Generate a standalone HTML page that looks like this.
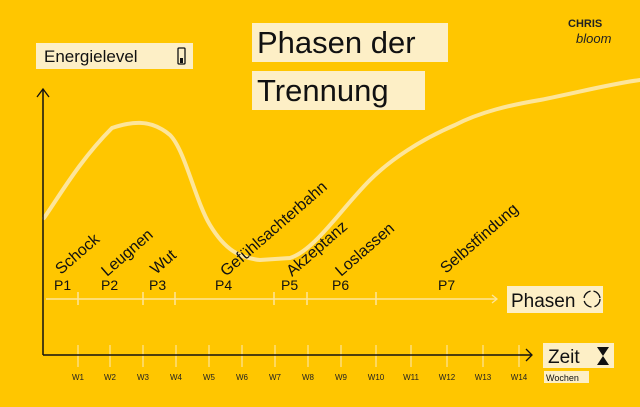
<!DOCTYPE html>
<html><head><meta charset="utf-8"><style>
html,body{margin:0;padding:0;background:#FFC600;}
svg{display:block;}
text{font-family:"Liberation Sans",sans-serif;}
</style></head><body>
<svg width="640" height="407" viewBox="0 0 640 407" xmlns="http://www.w3.org/2000/svg">
<rect width="640" height="407" fill="#FFC600"/>
<rect x="252" y="23" width="196" height="39" fill="#FDEFC6"/>
<text x="257" y="53" font-size="31" fill="#111">Phasen der</text>
<rect x="252" y="71" width="173" height="39" fill="#FDEFC6"/>
<text x="257" y="101" font-size="31" fill="#111">Trennung</text>
<text x="568" y="27" font-size="11" font-weight="bold" fill="#222">CHRIS</text>
<text x="576" y="43" font-size="13" font-style="italic" font-family="Liberation Serif" fill="#222">bloom</text>
<rect x="36" y="43" width="157" height="26" fill="#FDEFC6"/>
<text x="44" y="62" font-size="17" fill="#111">Energielevel</text>
<rect x="178" y="48" width="7" height="16" rx="1" fill="none" stroke="#111" stroke-width="1.3"/>
<rect x="180" y="58" width="3" height="5" fill="#111"/>
<path d="M44,218 C60,195 80,160 112,128 C130,122 150,118 170,135 C185,150 195,200 210,225 C225,250 240,258 260,260 L290,258 C315,250 340,210 370,180 C390,160 420,140 455,125 C480,112 510,105 540,100 C580,92 610,84 640,80" fill="none" stroke="#FDE59A" stroke-width="4" stroke-linecap="round"/>
<line x1="43" y1="89" x2="43" y2="355" stroke="#111" stroke-width="1.5"/>
<path d="M37,97 L43,89 L49,97" fill="none" stroke="#111" stroke-width="1.3"/>
<line x1="46" y1="299" x2="497" y2="299" stroke="#FDE59A" stroke-width="1.5"/>
<path d="M492,295 L497,299 L492,303" fill="none" stroke="#FDE59A" stroke-width="1.3"/>
<g stroke="#FDE59A" stroke-width="1.5">
<line x1="78" y1="292" x2="78" y2="305"/><line x1="143" y1="292" x2="143" y2="305"/><line x1="175" y1="292" x2="175" y2="305"/><line x1="274" y1="292" x2="274" y2="305"/><line x1="307" y1="292" x2="307" y2="305"/><line x1="376" y1="292" x2="376" y2="305"/>
</g>
<rect x="507" y="286" width="96" height="27" fill="#FDEFC6"/>
<text x="511" y="307" font-size="19" fill="#111">Phasen</text>
<circle cx="592" cy="299" r="8" fill="none" stroke="#111" stroke-width="1.3" stroke-dasharray="10 3"/>
<g font-size="14" fill="#111">
<text x="54" y="290">P1</text><text x="101" y="290">P2</text><text x="149" y="290">P3</text><text x="215" y="290">P4</text><text x="281" y="290">P5</text><text x="332" y="290">P6</text><text x="438" y="290">P7</text>
</g>
<g font-size="16" fill="#111">
<text transform="translate(61,275) rotate(-41)">Schock</text>
<text transform="translate(107,277) rotate(-41)">Leugnen</text>
<text transform="translate(156,275) rotate(-41)">Wut</text>
<text transform="translate(226,277) rotate(-41)">Gefühlsachterbahn</text>
<text transform="translate(292,277) rotate(-41)">Akzeptanz</text>
<text transform="translate(341,277) rotate(-41)">Loslassen</text>
<text transform="translate(446,274) rotate(-41)">Selbstfindung</text>
</g>
<g stroke="#FDE59A" stroke-width="1.2">
<line x1="78" y1="345" x2="78" y2="367"/><line x1="110" y1="345" x2="110" y2="367"/><line x1="143" y1="345" x2="143" y2="367"/><line x1="176" y1="345" x2="176" y2="367"/><line x1="209" y1="345" x2="209" y2="367"/><line x1="242" y1="345" x2="242" y2="367"/><line x1="275" y1="345" x2="275" y2="367"/><line x1="308" y1="345" x2="308" y2="367"/><line x1="341" y1="345" x2="341" y2="367"/><line x1="376" y1="345" x2="376" y2="367"/><line x1="411" y1="345" x2="411" y2="367"/><line x1="447" y1="345" x2="447" y2="367"/><line x1="483" y1="345" x2="483" y2="367"/><line x1="519" y1="345" x2="519" y2="367"/>
</g>
<line x1="43" y1="355" x2="531" y2="355" stroke="#111" stroke-width="1.5"/>
<path d="M526,349 L532,355 L526,361" fill="none" stroke="#111" stroke-width="1.3"/>
<g font-size="8" fill="#222" text-anchor="middle">
<text x="78" y="380">W1</text><text x="110" y="380">W2</text><text x="143" y="380">W3</text><text x="176" y="380">W4</text><text x="209" y="380">W5</text><text x="242" y="380">W6</text><text x="275" y="380">W7</text><text x="308" y="380">W8</text><text x="341" y="380">W9</text><text x="376" y="380">W10</text><text x="411" y="380">W11</text><text x="447" y="380">W12</text><text x="483" y="380">W13</text><text x="519" y="380">W14</text>
</g>
<rect x="543" y="343" width="71" height="25" fill="#FDEFC6"/>
<text x="548" y="363" font-size="19" fill="#111">Zeit</text>
<path d="M597,347 L609,347 L603,356 L609,365 L597,365 L603,356 Z" fill="#111"/>
<rect x="544" y="371" width="45" height="12" fill="#FDEFC6"/>
<text x="546" y="381" font-size="9" fill="#111">Wochen</text>
</svg>
</body></html>
